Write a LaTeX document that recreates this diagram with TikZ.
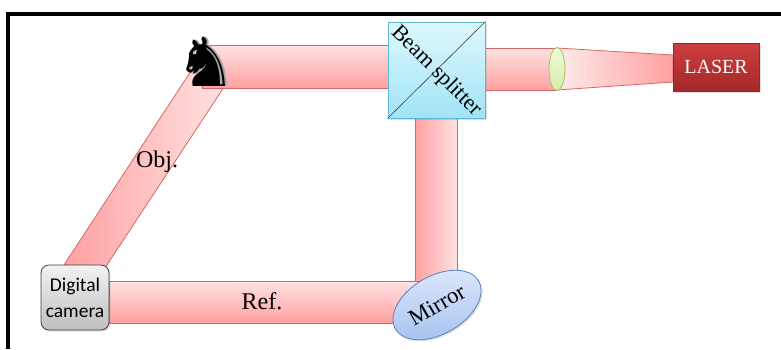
\documentclass[tikz,border=0pt]{standalone}
\usepackage{fontspec}
\setmainfont{Liberation Serif}
\newfontfamily\camfont{Carlito}
\newfontfamily\symfont{DejaVu Sans}
\usetikzlibrary{shapes.geometric,shadows}

\definecolor{beamlight}{RGB}{255,226,226}
\definecolor{beamdark}{RGB}{255,160,160}
\definecolor{beamedge}{RGB}{212,104,104}
\definecolor{bslight}{RGB}{222,248,253}
\definecolor{bsdark}{RGB}{160,228,246}
\definecolor{bsedge}{RGB}{92,186,214}
\definecolor{lenslight}{RGB}{240,250,220}
\definecolor{lensdark}{RGB}{214,236,170}
\definecolor{lensedge}{RGB}{160,196,92}
\definecolor{laserlight}{RGB}{206,62,62}
\definecolor{laserdark}{RGB}{164,40,40}
\definecolor{laseredge}{RGB}{150,40,40}
\definecolor{mirlight}{RGB}{222,232,252}
\definecolor{mirdark}{RGB}{166,194,240}
\definecolor{miredge}{RGB}{84,130,196}

\tikzset{
  beam/.style={draw=beamedge, line width=0.8pt},
  softshadow/.style={drop shadow={opacity=0.25, shadow xshift=1.5pt, shadow yshift=-1.5pt}},
  armlabel/.style={font=\fontsize{24}{26}\selectfont, text=black, inner sep=0pt},
}

\begin{document}
\begin{tikzpicture}[x=1pt, y=-1pt]
  \useasboundingbox (0,0) rectangle (781,349);
  \fill[white] (0,0) rectangle (781,349);

  % frame lines
  \draw[line width=4pt] (8,349) -- (8,14) -- (781,14);

  % object arm: diagonal beam from the knight down to the camera
  \path[beam, left color=beamdark, right color=beamlight]
    (62,268) -- (105,268) -- (226,84) -- (208,45) -- cycle;

  % top beam from the splitter to the knight
  \path[beam, top color=beamlight, bottom color=beamdark]
    (202,45) rectangle (388,88);

  % object: chess knight with a light rim
  \node[font=\symfont\fontsize{68}{68}\selectfont, inner sep=0pt, text=black!35] at (207.5,62) {♞};
  \node[font=\symfont\fontsize{68}{68}\selectfont, inner sep=0pt] (knight) at (206,62) {♞};

  % laser beam through the lens
  \path[beam, top color=beamlight, bottom color=beamdark]
    (485,48) rectangle (557,90);
  \path[beam, left color=beamlight!70!white, right color=beamdark]
    (557,48) -- (673,55) -- (673,82) -- (557,90) -- cycle;

  % laser source
  \node[draw=laseredge, top color=laserlight, bottom color=laserdark,
        minimum width=86pt, minimum height=48pt, softshadow,
        text=white, font=\fontsize{20}{22}\selectfont] (laser) at (716,67) {LASER};

  % lens
  \node[ellipse, draw=lensedge, line width=0.8pt, top color=lenslight, bottom color=lensdark,
        minimum width=16pt, minimum height=43pt, inner sep=0pt] (lens) at (557,69) {};

  % reference arm: vertical beam and bottom beam
  \path[beam, left color=beamdark, right color=beamlight]
    (415,118) rectangle (457,284);
  \path[beam, top color=beamlight, bottom color=beamdark]
    (109,281) rectangle (420,323);

  % beam splitter cube
  \node[draw=bsedge, line width=0.8pt, top color=bslight, bottom color=bsdark,
        minimum width=97pt, minimum height=96pt, inner sep=0pt, softshadow] (bs) at (436.5,70) {};
  \draw[black!75, line width=0.6pt] (bs.south west) -- (bs.north east);
  \node[armlabel, font=\fontsize{22}{24}\selectfont, rotate=-45] (bstext) at (436,71) {Beam splitter};

  % mirror
  \node[ellipse, draw=miredge, line width=0.8pt, top color=mirlight, bottom color=mirdark,
        minimum width=96pt, minimum height=58pt, inner sep=0pt, rotate=30, softshadow,
        font=\fontsize{23}{25}\selectfont] (mirror) at (437,305) {Mirror};

  % digital camera
  \node[draw=black!75, line width=0.8pt, rounded corners=8pt, top color=white!95!black,
        bottom color=black!25, minimum width=68pt, minimum height=65pt, inner sep=0pt,
        align=center, softshadow, font=\camfont\fontsize{19.5}{26}\selectfont] (camera) at (75,297.5)
        {Digital\\camera};

  % arm labels
  \node[armlabel] (obj) at (157,162) {Obj.};
  \node[armlabel] (ref) at (262,301) {Ref.};
\end{tikzpicture}
\end{document}
